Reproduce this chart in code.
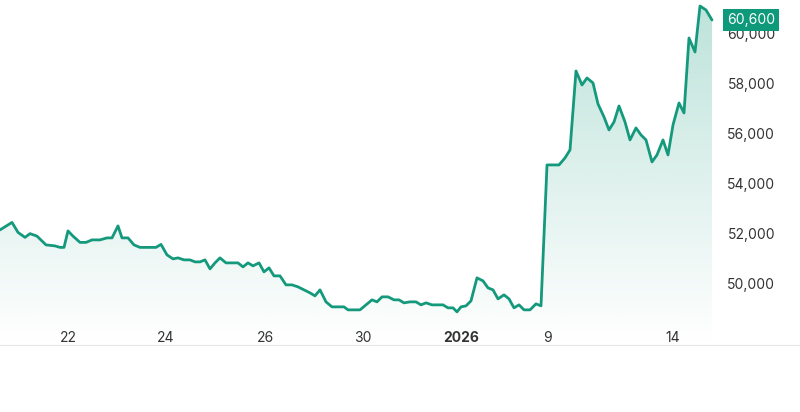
import numpy as np, pandas as pd, matplotlib
matplotlib.use("Agg")
import matplotlib.pyplot as plt, seaborn as sns
from matplotlib.transforms import blended_transform_factory as btf
from matplotlib.colors import LinearSegmentedColormap

sns.set_style("white")
plt.rcParams['font.family'] = ['Inter', 'DejaVu Sans']

# session time (units of ~1 bar) and price
t = [0,12,18,25,30,37,46,55,60,64,68,73,80,86,92,100,107,112,118,122,128,134,140,150,156,161,167,173,178,184,190,195,200,205,210,215,220,226,232,238,243,248,253,259,264,269,274,280,286,292,298,304,310,315,320,326,332,338,344,348,354,360,366,372,377,382,388,394,399,404,410,416,421,426,432,437,443,448,453,457,461,466,471,477,483,488,493,498,504,509,514,519,524,530,536,541,547,553,559,565,570,576,582,587,593,598,604,609,614,619,625,630,636,641,646,652,657,663,668,673,679,684,689,695,700,706,712]
price = [52200,52500,52100,51900,52050,51950,51600,51560,51500,51500,52160,51950,51700,51700,51800,51800,51880,51880,52360,51880,51880,51600,51500,51500,51500,51620,51200,51040,51080,51000,51000,50920,50920,51000,50640,50880,51080,50880,50880,50880,50720,50880,50760,50880,50520,50680,50360,50360,50000,50000,49920,49800,49680,49560,49800,49320,49120,49120,49120,49000,49000,49000,49200,49400,49320,49520,49520,49400,49400,49280,49320,49320,49200,49280,49200,49200,49200,49080,49080,48920,49120,49160,49360,50280,50160,49880,49800,49440,49600,49440,49080,49200,49000,49000,49240,49160,54800,54800,54800,55080,55400,58560,58000,58280,58080,57240,56720,56200,56520,57160,56520,55800,56280,56000,55800,54920,55200,55800,55200,56400,57280,56880,59880,59320,61160,61000,60600]
tick_pos = [68,166,265,363,461,548,673]
tick_labels = ["22","24","26","30","2026","9","14"]
y_ticks = [50000,52000,54000,56000,58000,60000]
last_label = "60,600"

df = pd.DataFrame({"t": t, "price": price})
color = "#14997c"
fig = plt.figure(figsize=(8, 4.12), dpi=100)
ax = fig.add_axes([0, 0.163, 1, 0.837])
ymin, ymax = 47600, 61400
ax.set_xlim(0, 800); ax.set_ylim(ymin, ymax)

grad = np.linspace(0, 1, 256).reshape(-1, 1)
cmap = LinearSegmentedColormap.from_list("g", [(0.08,0.6,0.49,0.0),(0.08,0.6,0.49,0.28)])
im = ax.imshow(grad, cmap=cmap, aspect="auto", extent=[0, 712, ymin, 61200], origin="lower", zorder=1)
poly = ax.fill_between(df.t, df.price, ymin, color="none")
im.set_clip_path(poly.get_paths()[0], transform=ax.transData)

sns.lineplot(data=df, x="t", y="price", ax=ax, color=color, lw=2, zorder=3)

for s in ["top", "left", "right"]:
    ax.spines[s].set_visible(False)
ax.spines["bottom"].set_color("#e6e6e6")
ax.set_xlabel(""); ax.set_ylabel("")
ax.set_xticks(tick_pos)
ax.set_xticklabels(tick_labels, fontsize=10, color="#333333")
ax.get_xticklabels()[4].set_fontweight("bold")
ax.tick_params(axis="x", length=0, pad=-10)
ax.set_yticks([])
tr = btf(ax.transAxes, ax.transData)
for v in y_ticks:
    ax.text(0.969, v, f"{v:,}", transform=tr, ha="right", va="center", fontsize=10, color="#333333")
ax.text(0.969, price[-1], last_label, transform=tr, ha="right", va="center", fontsize=10, color="white",
        bbox=dict(boxstyle="square,pad=0.3", fc="#0e9a7a", ec="none"), zorder=5)
fig.savefig("out.png", dpi=100)
